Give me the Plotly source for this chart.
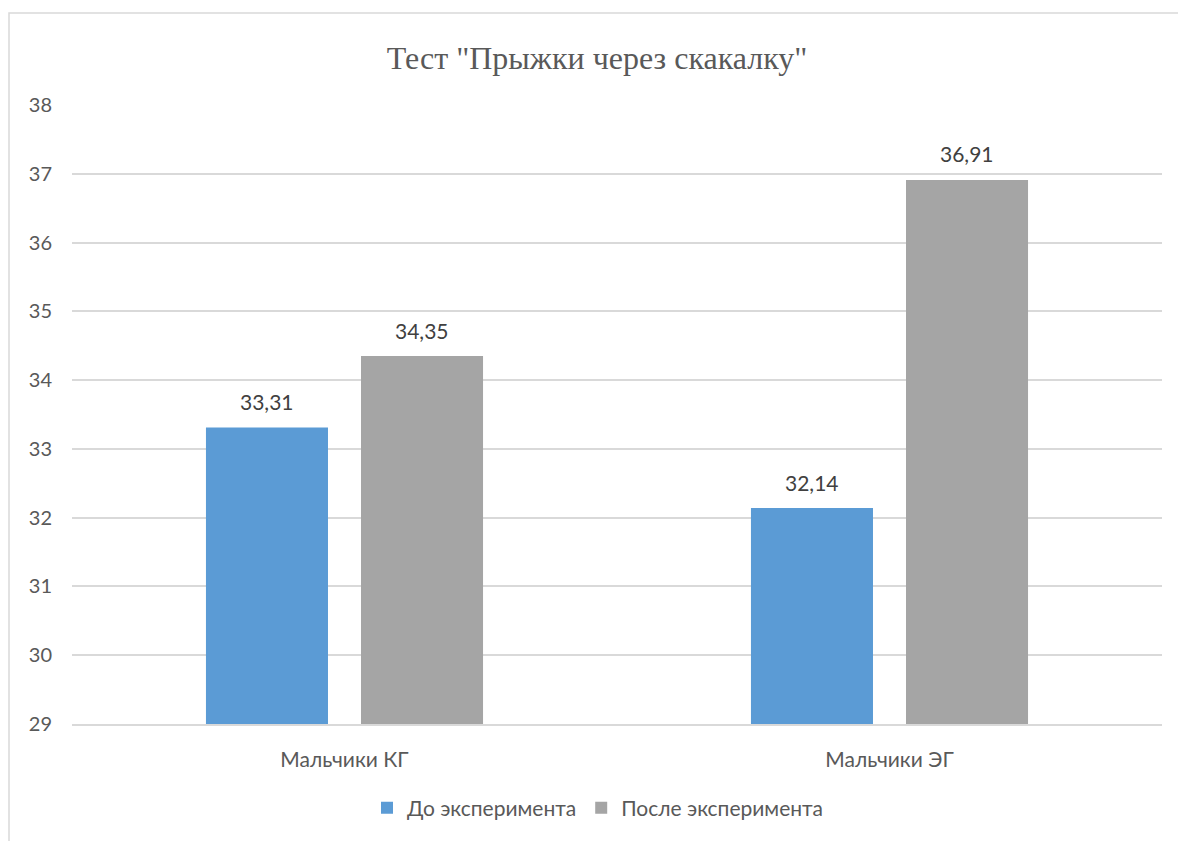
import plotly.graph_objects as go

# Jump-rope test results, boys' groups
categories = ["Мальчики КГ", "Мальчики ЭГ"]
before_values = [33.31, 32.14]
after_values = [34.35, 36.91]
series_names = ["До эксперимента", "После эксперимента"]
y_ticks = [29, 30, 31, 32, 33, 34, 35, 36, 37, 38]

W, H = 1178, 841
ML, MR, MT, MB = 72, 16, 105, 117
pw, ph = W - ML - MR, H - MT - MB

SANS = "Lato, Noto Sans, sans-serif"
BAR_GAP = 0.431
GROUP_GAP = 0.213

fig = go.Figure()
fig.add_trace(go.Bar(
    x=categories, y=before_values, name=series_names[0],
    marker=dict(color="#5B9BD5", line=dict(width=0)),
))
fig.add_trace(go.Bar(
    x=categories, y=after_values, name=series_names[1],
    marker=dict(color="#A5A5A5", line=dict(width=0)),
))

# Value labels above each bar, placed at the bar centres of each group
slot = (1 - BAR_GAP) / 2
for s, values in enumerate([before_values, after_values]):
    offset = (s - 0.5) * slot
    for i, v in enumerate(values):
        fig.add_annotation(
            x=i + offset, y=v, xref="x", yref="y",
            text=f"{v:.2f}".replace(".", ","), showarrow=False,
            yanchor="middle", yshift=26,
            font=dict(family=SANS, size=21, color="#404040"),
        )

# Outer chart frame (runs past the right and bottom edges of the page)
def px_to_paper_x(px):
    return (px - ML) / pw

def px_to_paper_y(py):
    return (H - MB - py) / ph

fig.add_shape(
    type="rect", xref="paper", yref="paper",
    x0=px_to_paper_x(9), x1=px_to_paper_x(W + 5),
    y0=px_to_paper_y(H + 5), y1=px_to_paper_y(13),
    line=dict(color="#D9D9D9", width=1.5), fillcolor="rgba(0,0,0,0)",
    layer="below",
)

fig.update_layout(
    width=W, height=H,
    margin=dict(l=ML, r=MR, t=MT, b=MB),
    paper_bgcolor="white", plot_bgcolor="white",
    barmode="group", bargap=BAR_GAP, bargroupgap=GROUP_GAP,
    title=dict(
        text='Тест "Прыжки через скакалку"',
        x=px_to_paper_x(597), xanchor="center", xref="paper",
        y=1 - 58 / H, yanchor="middle",
        font=dict(family="Liberation Serif, Times New Roman, serif", size=32, color="#595959"),
    ),
    xaxis=dict(
        showgrid=False, showline=True, linecolor="#D9D9D9", linewidth=1.5,
        ticks="", tickfont=dict(family=SANS, size=21, color="#595959"),
        ticklabelstandoff=16,
    ),
    yaxis=dict(
        range=[29, 38], tickvals=y_ticks, showgrid=True, gridcolor="#D9D9D9", gridwidth=1.5,
        zeroline=False, showline=False, ticks="",
        tickfont=dict(family=SANS, size=20, color="#595959"),
        ticklabelstandoff=19,
    ),
    legend=dict(
        orientation="h", x=px_to_paper_x(598), xanchor="center",
        y=px_to_paper_y(808), yanchor="middle",
        font=dict(family=SANS, size=21, color="#595959"),
        itemwidth=30, tracegroupgap=0,
    ),
    showlegend=True,
)

fig.write_html("out.html")
